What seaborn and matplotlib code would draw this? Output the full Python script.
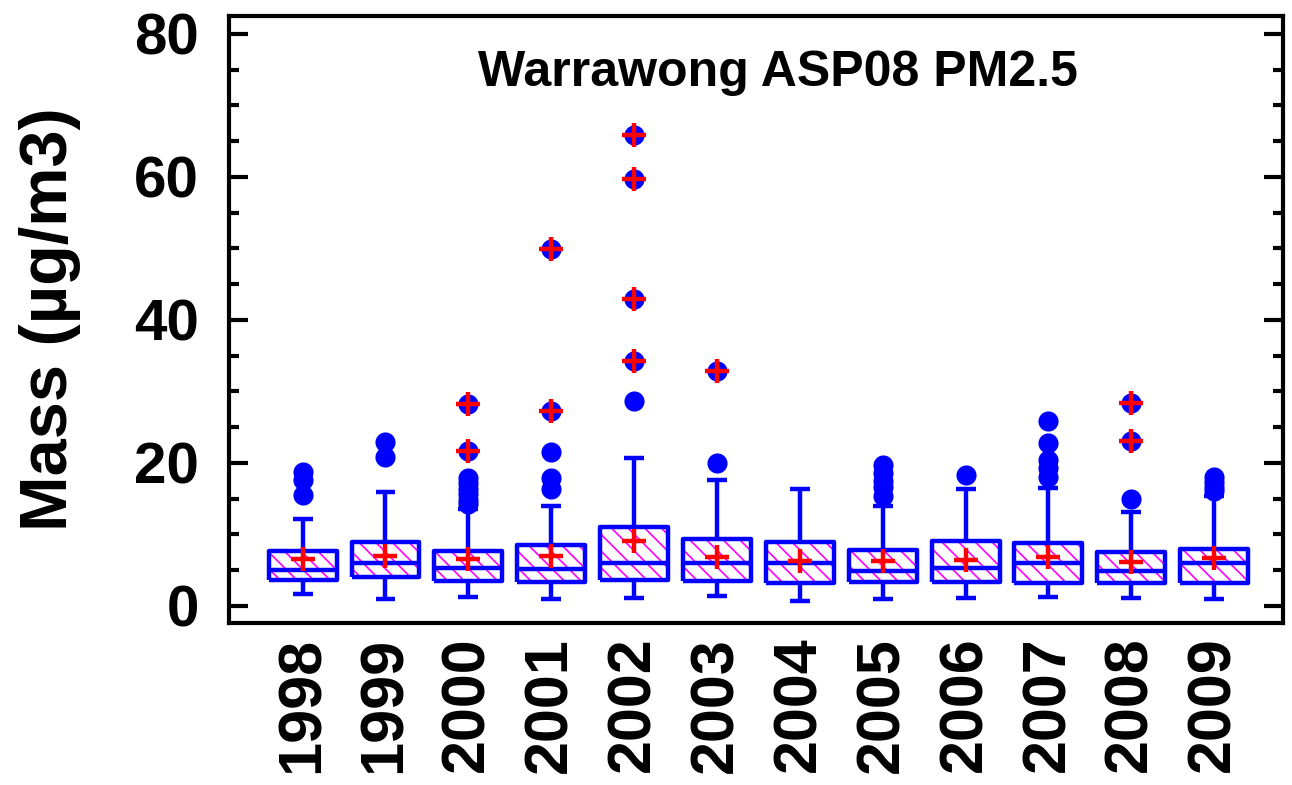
import matplotlib
matplotlib.use("Agg")
import matplotlib.pyplot as plt
from matplotlib.ticker import MultipleLocator
import seaborn as sns
import pandas as pd

# ---------------- data ----------------
years = ["1998", "1999", "2000", "2001", "2002", "2003",
         "2004", "2005", "2006", "2007", "2008", "2009"]
whisker_low = [1.6, 0.9, 1.26, 1.0, 1.1, 1.4, 0.7, 0.95, 1.1, 1.26, 1.1, 0.95]
q1 = [3.6, 4.0, 3.45, 3.3, 3.6, 3.45, 3.2, 3.3, 3.35, 3.15, 3.15, 3.15]
medians = [4.95, 6.0, 5.3, 5.2, 6.0, 5.95, 5.95, 4.9, 5.25, 6.0, 4.9, 5.95]
q3 = [7.7, 8.9, 7.65, 8.5, 11.0, 9.3, 8.95, 7.8, 9.0, 8.75, 7.55, 8.0]
whisker_high = [12.2, 15.9, 13.5, 13.95, 20.6, 17.55, 16.4, 14.0, 16.3, 16.5, 13.15, 15.3]
means = [6.5, 7.0, 6.5, 6.95, 9.05, 6.85, 6.25, 6.25, 6.4, 6.85, 6.05, 6.7]
outliers = [
    [18.75, 17.6, 15.5],
    [22.95, 20.85],
    [17.9, 17.2, 16.4, 15.6, 14.8, 14.2],
    [21.55, 17.8, 16.4],
    [28.7],
    [20.0],
    [],
    [19.7, 18.6, 17.5, 16.6, 15.3],
    [18.3],
    [25.85, 22.8, 20.4, 19.2, 18.05],
    [15.0],
    [18.0, 17.3, 16.6, 16.0],
]
extremes = [
    [],
    [],
    [28.2, 21.6],
    [49.9, 27.3],
    [65.9, 59.7, 42.9, 34.3],
    [32.9],
    [],
    [],
    [],
    [],
    [28.4, 23.1],
    [],
]
title = "Warrawong ASP08 PM2.5"
ylabel = "Mass (\u00b5g/m3)"

# ---------------- style ----------------
sns.set_style("ticks")
plt.rcParams["font.family"] = ["Liberation Sans", "DejaVu Sans"]
plt.rcParams["font.weight"] = "bold"
plt.rcParams["hatch.linewidth"] = 1.2
for key in ["text.color", "axes.labelcolor", "xtick.color", "ytick.color", "axes.edgecolor"]:
    plt.rcParams[key] = "black"

BLUE = "#0000FF"
RED = "#FF0000"
MAGENTA = "#FF00FF"

fig = plt.figure(figsize=(12.92, 7.85), dpi=100)
ax = fig.add_axes([0.1776, 0.2067, 0.8154, 0.7729])

positions = list(range(len(years)))
stats = []
for i, y in enumerate(years):
    stats.append(dict(label=y, whislo=whisker_low[i], q1=q1[i], med=medians[i],
                      q3=q3[i], whishi=whisker_high[i], mean=means[i], fliers=[]))

# hatched fill (magenta hatch, no edge)
ax.bxp(stats, positions=positions, widths=0.82, patch_artist=True,
       showfliers=False, showcaps=False, showmeans=False,
       boxprops=dict(facecolor="white", edgecolor=MAGENTA, hatch="\\\\", linewidth=0),
       whiskerprops=dict(linewidth=0), medianprops=dict(linewidth=0),
       manage_ticks=False)
# blue box outlines, whiskers, caps, medians
lineprops = dict(color=BLUE, linewidth=3.2, solid_capstyle="butt")
ax.bxp(stats, positions=positions, widths=0.82, capwidths=0.24, patch_artist=False,
       showfliers=False, showmeans=False,
       boxprops=lineprops, whiskerprops=lineprops, capprops=lineprops,
       medianprops=lineprops, manage_ticks=False)

# outlier points
pts_x, pts_y = [], []
for i in range(len(years)):
    for v in outliers[i] + extremes[i]:
        pts_x.append(i)
        pts_y.append(v)
df_pts = pd.DataFrame({"x": pts_x, "y": pts_y})
sns.scatterplot(data=df_pts, x="x", y="y", ax=ax, color=BLUE, s=210,
                edgecolor=BLUE, linewidth=0, zorder=4, legend=False)

# red crosses: means and extreme outliers
cx, cy = [], []
for i in range(len(years)):
    cx.append(i)
    cy.append(means[i])
    for v in extremes[i]:
        cx.append(i)
        cy.append(v)
df_cross = pd.DataFrame({"x": cx, "y": cy})
sns.scatterplot(data=df_cross, x="x", y="y", ax=ax, color=RED, marker="+",
                s=300, linewidth=3.2, zorder=5, legend=False)

# ---------------- axes ----------------
ax.set_xlim(-0.883, 11.83)
ax.set_ylim(-2.38, 82.5)
ax.set_xticks(positions)
ax.set_xticklabels(years, rotation=90, fontsize=44, fontweight="bold")
ax.tick_params(axis="x", length=0, pad=10)
ax.yaxis.set_major_locator(MultipleLocator(20))
ax.yaxis.set_minor_locator(MultipleLocator(5))
ax.tick_params(axis="y", which="major", direction="in", length=14, width=3,
               left=True, right=True, labelsize=42, pad=22)
ax.tick_params(axis="y", which="minor", direction="in", length=7, width=3,
               left=True, right=True)
for lab in ax.get_yticklabels():
    lab.set_fontweight("bold")
ax.set_xlabel("")
ax.set_ylabel(ylabel, fontsize=48, fontweight="bold", labelpad=38)
for sp in ax.spines.values():
    sp.set_visible(True)
    sp.set_linewidth(3)
    sp.set_color("black")

ax.text(0.5207, 0.906, title, transform=ax.transAxes, ha="center", va="center",
        fontsize=36, fontweight="bold")

fig.savefig("out.png", dpi=100)
